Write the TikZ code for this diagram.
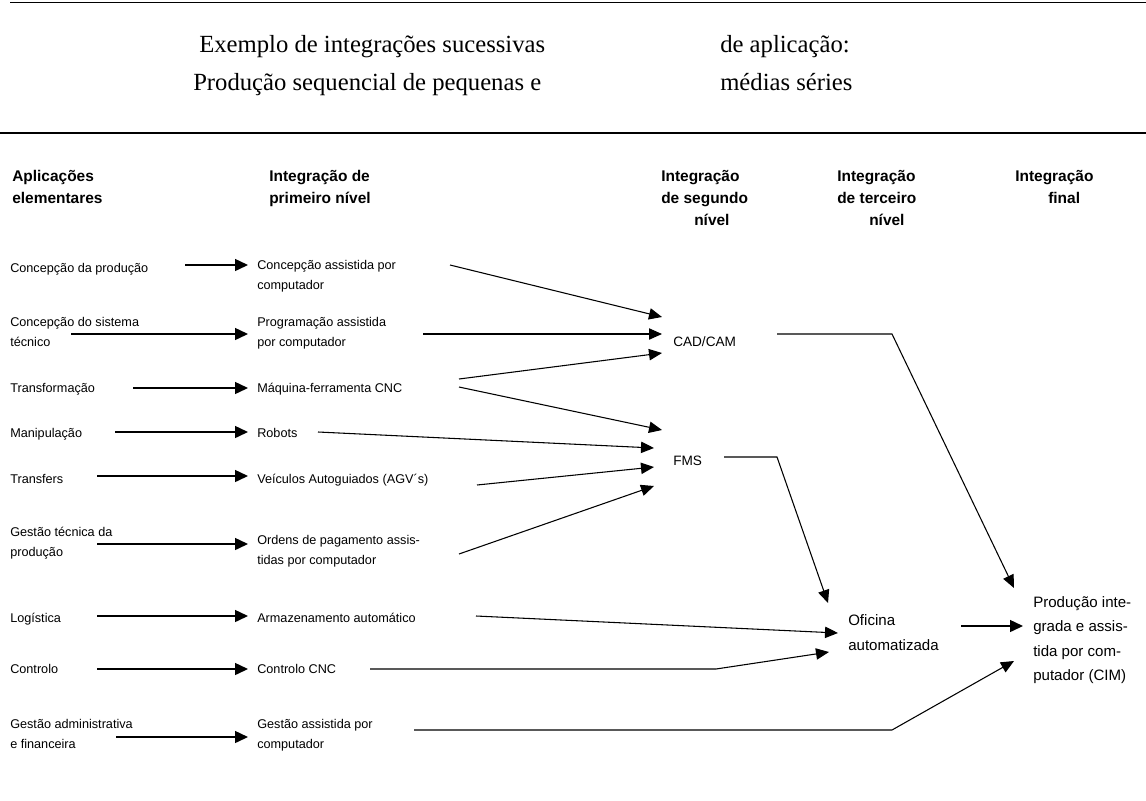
\documentclass[tikz,border=0pt]{standalone}
\usepackage{fontspec}
\setmainfont{Liberation Serif}
\newfontfamily\sansf{Liberation Sans}
\usetikzlibrary{arrows.meta}
\begin{document}
\begin{tikzpicture}[x=0.75pt,y=-0.75pt,
 txt/.style={inner sep=0pt, anchor=base west, align=left, font=\sansf\fontsize{9.5}{15}\selectfont},
 hdr/.style={inner sep=0pt, anchor=base west, align=left, font=\sansf\bfseries\fontsize{11.6}{16.5}\selectfont},
 mid/.style={inner sep=0pt, anchor=base west, font=\sansf\fontsize{10.2}{15}\selectfont},
 big/.style={inner sep=0pt, anchor=base west, align=left, font=\sansf\fontsize{11.3}{18.4}\selectfont},
 ttl/.style={inner sep=0pt, anchor=base west, font=\fontsize{18.5}{22}\selectfont},
 sarr/.style={line width=1.1pt, -{Triangle[length=9.75pt,width=9pt]}},
 larr/.style={line width=0.8pt, -{Triangle[length=9.75pt,width=8.5pt]}},
 rule/.style={line width=1.2pt}]

\useasboundingbox (0,0) rectangle (1146,800);

% rules
\coordinate (r1a) at (10,2.5);  \coordinate (r1b) at (1146,2.5);
\coordinate (r2a) at (0,133);   \coordinate (r2b) at (1146,133);
\draw[rule] (r1a) -- (r1b);
\draw[rule] (r2a) -- (r2b);

% title
\node[ttl] (t1) at (199,52) {Exemplo de integrações sucessivas};
\node[ttl] (t2) at (720,52) {de aplicação:};
\node[ttl] (t3) at (193,90) {Produção sequencial de pequenas e};
\node[ttl] (t4) at (720,90) {médias séries};

% headers (anchor = baseline of last line)
\node[hdr] (h1) at (12,203) {Aplicações\\elementares};
\node[hdr] (h2) at (269,203) {Integração de\\primeiro nível};
\node[hdr] (h3) at (661,225) {Integração\\de segundo\\\hspace*{24.75pt}nível};
\node[hdr] (h4) at (837,225) {Integração\\de terceiro\\\hspace*{24pt}nível};
\node[hdr] (h5) at (1015,203) {Integração\\\hspace*{24.75pt}final};

% left column
\node[txt] (L1) at (10,272) {Concepção da produção};
\node[txt] (L2) at (10,346) {Concepção do sistema\\técnico};
\node[txt] (L3) at (10,392) {Transformação};
\node[txt] (L4) at (10,437) {Manipulação};
\node[txt] (L5) at (10,483) {Transfers};
\node[txt] (L6) at (10,556) {Gestão técnica da\\produção};
\node[txt] (L7) at (10,622) {Logística};
\node[txt] (L8) at (10,673) {Controlo};
\node[txt] (L9) at (10,748) {Gestão administrativa\\e financeira};

% middle column
\node[txt] (M1) at (257,289) {Concepção assistida por\\computador};
\node[txt] (M2) at (257,346) {Programação assistida\\por computador};
\node[txt] (M3) at (257,392) {Máquina-ferramenta CNC};
\node[txt] (M4) at (257,437) {Robots};
\node[txt] (M5) at (257,483) {Veículos Autoguiados (AGV´s)};
\node[txt] (M6) at (257,564) {Ordens de pagamento assis-\\tidas por computador};
\node[txt] (M7) at (257,622) {Armazenamento automático};
\node[txt] (M8) at (257,673) {Controlo CNC};
\node[txt] (M9) at (257,748) {Gestão assistida por\\computador};

% second/third/final level
\node[mid] (cad) at (673,346) {CAD/CAM};
\node[mid] (fms) at (673,465) {FMS};
\node[big] (ofi) at (848,650.5) {Oficina\\automatizada};
\node[big] (cim) at (1033,680.6) {Produção inte-\\grada e assis-\\tida por com-\\putador (CIM)};

% left -> middle arrows
\coordinate (L1o) at (185,265); \coordinate (M1i) at (248,265);
\coordinate (L2o) at (71,334);  \coordinate (M2i) at (248,334);
\coordinate (L3o) at (133,388); \coordinate (M3i) at (248,388);
\coordinate (L4o) at (115,432); \coordinate (M4i) at (248,432);
\coordinate (L5o) at (97,476);  \coordinate (M5i) at (248,476);
\coordinate (L6o) at (97,544);  \coordinate (M6i) at (248,544);
\coordinate (L7o) at (97,616);  \coordinate (M7i) at (248,616);
\coordinate (L8o) at (97,669);  \coordinate (M8i) at (248,669);
\coordinate (L9o) at (116,737); \coordinate (M9i) at (248,737);
\draw[sarr] (L1o) -- (M1i);
\draw[sarr] (L2o) -- (M2i);
\draw[sarr] (L3o) -- (M3i);
\draw[sarr] (L4o) -- (M4i);
\draw[sarr] (L5o) -- (M5i);
\draw[sarr] (L6o) -- (M6i);
\draw[sarr] (L7o) -- (M7i);
\draw[sarr] (L8o) -- (M8i);
\draw[sarr] (L9o) -- (M9i);

% middle -> second level
\coordinate (M1o) at (450,265);  \coordinate (cadA) at (662,317);
\coordinate (M2o) at (423,334);  \coordinate (cadB) at (662,334);
\coordinate (M3oa) at (459,379); \coordinate (cadC) at (662,353);
\coordinate (M3ob) at (459,387); \coordinate (fmsA) at (662,430);
\coordinate (M4o) at (318,432);  \coordinate (fmsB) at (654,448);
\coordinate (M5o) at (477,485);  \coordinate (fmsC) at (654,467);
\coordinate (M6o) at (459,554);  \coordinate (fmsD) at (654,486);
\draw[larr] (M1o) -- (cadA);
\draw[larr] (M2o) -- (cadB);
\draw[larr] (M3oa) -- (cadC);
\draw[larr] (M3ob) -- (fmsA);
\draw[larr] (M4o) -- (fmsB);
\draw[larr] (M5o) -- (fmsC);
\draw[larr] (M6o) -- (fmsD);

% to oficina and CIM
\coordinate (cado) at (777,334); \coordinate (cadk) at (892,334); \coordinate (cimA) at (1014,588);
\coordinate (fmso) at (724,457); \coordinate (fmsk) at (777,457); \coordinate (ofiA) at (828,603);
\coordinate (M7o) at (476,616);  \coordinate (ofiB) at (838,633);
\coordinate (M8o) at (370,669);  \coordinate (M8k) at (716,669); \coordinate (ofiC) at (829,652);
\coordinate (M9o) at (414,730);  \coordinate (M9k) at (892,730); \coordinate (cimC) at (1014,661);
\coordinate (ofio) at (961,626); \coordinate (cimB) at (1023,626);
\draw[larr] (cado) -- (cadk) -- (cimA);
\draw[larr] (fmso) -- (fmsk) -- (ofiA);
\draw[larr] (M7o) -- (ofiB);
\draw[larr] (M8o) -- (M8k) -- (ofiC);
\draw[larr] (M9o) -- (M9k) -- (cimC);
\draw[sarr] (ofio) -- (cimB);
\end{tikzpicture}
\end{document}
